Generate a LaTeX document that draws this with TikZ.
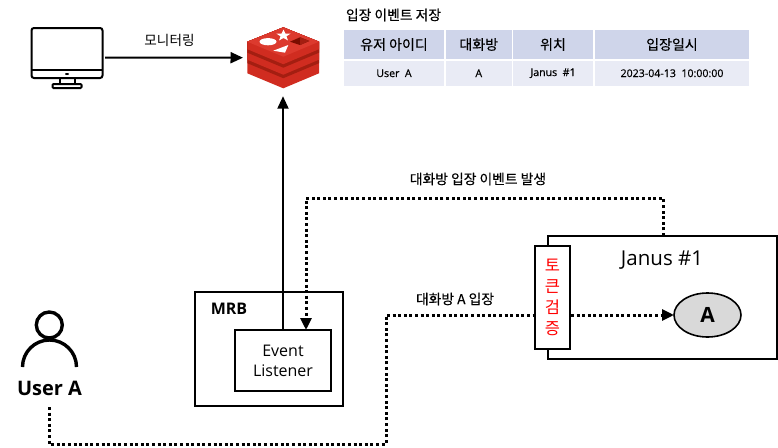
\documentclass[tikz,border=0pt]{standalone}
\usepackage{fontspec}
\setmainfont{Open Sans}
\newfontfamily\cjk{Noto Sans CJK KR}
\newfontfamily\cjkm[FakeBold=0.35]{Noto Sans CJK KR}
\newfontfamily\latm[FakeBold=0.5]{Open Sans}
\usetikzlibrary{arrows.meta,shapes.geometric,calc}
\definecolor{hdr}{HTML}{CFD5EA}
\definecolor{rowc}{HTML}{E9EBF5}
\definecolor{rbright}{HTML}{DC3A2E}
\definecolor{rside}{HTML}{D02C20}
\definecolor{rdark}{HTML}{A41E11}
\definecolor{rdeep}{HTML}{7A0C00}
\tikzset{
  x=1pt,y=-1pt,
  outline/.style={draw=black,line width=2pt,fill=white,inner sep=0pt,outer sep=0pt},
  anchorbox/.style={inner sep=0pt,outer sep=0pt},
  plainlabel/.style={inner sep=0pt,outer sep=0pt,align=center},
  solidarrow/.style={draw=black,line width=2pt,-{Triangle[length=12.5pt,width=11pt]}},
  dotline/.style={draw=black,line width=3pt,dash pattern=on 3pt off 2.6pt},
  dotarrow/.style={dotline,-{Triangle[length=12pt,width=11pt]}},
  hcell/.style={fill=hdr,inner sep=0pt,outer sep=0pt},
  rcell/.style={fill=rowc,inner sep=0pt,outer sep=0pt},
  htext/.style={font=\cjkm\fontsize{14}{16}\selectfont},
  rtext/.style={font=\latm\fontsize{10.6}{12}\selectfont},
  lbl/.style={plainlabel,font=\cjkm\fontsize{13.8}{16}\selectfont},
}
\newcommand{\cellbox}[7]{% name, style, x1,y1,x2,y2, text
  \node[#2,minimum width=#5pt-#3pt,minimum height=#6pt-#4pt,anchor=north west] (#1) at (#3,#4) {#7};}
\newcommand{\redislayer}[2]{% thickness, colour
  \fill[#2] (247.3,41.7) -- (283.3,27.3) -- (319,41.7) -- (319,41.7+#1) -- (283.3,56.7+#1) -- (247.3,41.7+#1) -- cycle;}
\begin{document}
\begin{tikzpicture}
\useasboundingbox (0,0) rectangle (778,447);
\fill[white] (0,0) rectangle (778,447);

% monitor
\node[anchorbox,minimum width=72pt,minimum height=61pt] (monitor) at (67,57.5) {};
\draw[line width=2pt,rounded corners=2.5pt] (31.5,28) rectangle (102.5,78);
\draw[line width=2pt] (31.5,70) -- (102.5,70);
\fill (67,74) ellipse (2pt and 1pt);
\draw[line width=2pt] (59.5,78) -- (59.5,84) (74.5,78) -- (74.5,84);
\draw[line width=2pt,rounded corners=1pt] (52.5,84) rectangle (81.5,88);

% redis logo
\node[anchorbox,minimum width=76pt,minimum height=61pt] (redis) at (283,57.7) {};
\redislayer{31.6}{rside}
\redislayer{21.5}{rdark}
\redislayer{18}{rside}
\redislayer{11}{rdark}
\redislayer{7.5}{rside}
\redislayer{0}{rbright}
\fill[white] (268,41.7) ellipse (8.5pt and 3.6pt);
\fill[white] (273.3,50.7) -- (288.3,45) -- (285,52.7) -- cycle;
\fill[rdeep] (290,41.7) -- (300,37.3) -- (309.3,41) -- (300,45) -- cycle;
\fill[rdark] (300,37.3) -- (309.3,41) -- (300,45) -- cycle;
\fill[white] (283.5,29.5) -- (285.4,33.5) -- (290.6,33.6) -- (286.5,36.3) -- (287.9,40.4) -- (283.5,38) -- (279.1,40.4) -- (280.5,36.3) -- (276.4,33.6) -- (281.6,33.5) -- cycle;

% monitor label and table title
\node[lbl] (monlabel) at (169.5,40) {\cjk\fontsize{13.6}{16}\selectfont 모니터링};
\node[plainlabel,anchor=west,font=\cjkm\fontsize{13.8}{16}\selectfont] (tabletitle) at (346,15) {입장 이벤트 저장};

% table
\cellbox{h1}{hcell,htext}{344}{30}{444}{59}{유저 아이디}
\cellbox{h2}{hcell,htext}{446}{30}{511.5}{59}{대화방}
\cellbox{h3}{hcell,htext}{513}{30}{593}{59}{위치}
\cellbox{h4}{hcell,htext}{595}{30}{749}{59}{입장일시}
\cellbox{r1}{rcell,rtext}{344}{60.5}{444}{86}{User\ \ A}
\cellbox{r2}{rcell,rtext}{446}{60.5}{511.5}{86}{A}
\cellbox{r3}{rcell,rtext}{513}{60.5}{593}{86}{Janus\ \ \#1}
\cellbox{r4}{rcell,rtext}{595}{60.5}{749}{86}{2023-04-13\ \ 10:00:00}

% MRB
\node[outline,minimum width=148pt,minimum height=114pt,anchor=north west] (mrb) at (195,292) {};
\node[plainlabel,font=\bfseries\fontsize{16}{18}\selectfont] (mrblabel) at (229,309) {MRB};
\node[outline,minimum width=96pt,minimum height=61pt,anchor=north west,align=center,
  font=\fontsize{16}{20}\selectfont] (event) at (235,330) {Event\\Listener};

% Janus
\node[outline,minimum width=229pt,minimum height=123pt,anchor=north west] (janus) at (548,236) {};
\node[plainlabel,font=\fontsize{20.5}{24}\selectfont] (januslabel) at (662,260) {Janus \#1};
\node[outline,minimum width=35pt,minimum height=103pt,anchor=north west,align=center,text=red,
  font=\cjk\fontsize{16.5}{21}\selectfont] (token) at (535,246) {토\\큰\\검\\증};
\node[ellipse,draw=black,line width=1.6pt,fill=black!15,minimum width=67pt,minimum height=44pt,inner sep=0pt,outer sep=0pt,
  font=\bfseries\fontsize{21}{24}\selectfont] (roomA) at (707.5,315) {A};

% user
\node[anchorbox,minimum width=56pt,minimum height=56pt] (usericon) at (49.5,339) {};
\draw[line width=3.4pt] (49.3,325) circle (13pt);
\draw[line width=3.4pt] (22.5,367) arc[start angle=180,end angle=0,x radius=27pt,y radius=27pt];
\node[plainlabel,font=\bfseries\fontsize{20}{24}\selectfont] (userlabel) at (49.5,388) {User A};
\coordinate (userout) at (49,407);
\coordinate (userbend) at (49,444);
\coordinate (userup) at (386,444);
\coordinate (userin) at (386,315);

% connectors
\draw[solidarrow,shorten >=2pt,shorten <=2pt] (monitor.east) -- (redis.west);
\draw[solidarrow,shorten >=8pt] (event.north) -- (redis.south);
\coordinate (evtup) at (663,198);
\coordinate (evtdown) at (306,198);
\draw[dotarrow] (janus.north -| evtup) -- (evtup) -- (evtdown) -- (evtdown |- event.north);
\draw[dotline] (userout) -- (userbend) -- (userup) -- (userin) -- (userin -| token.west);
\draw[dotarrow,shorten <=1pt] (token.east |- roomA.west) -- (roomA.west);

\node[lbl] (riseLabel) at (478,179) {대화방 입장 이벤트 발생};
\node[lbl] (enterLabel) at (455,299) {대화방 A 입장};
\end{tikzpicture}
\end{document}
